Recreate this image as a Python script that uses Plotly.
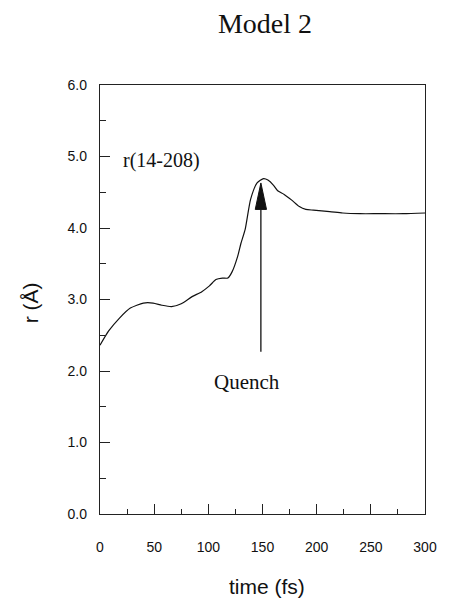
import plotly.graph_objects as go

# data
time_fs = [0, 8, 18, 28, 40, 49, 57, 66, 75, 85, 94, 101, 107, 113, 118, 122, 127, 130,
           134, 139, 145, 151, 155, 160, 164, 170, 177, 184, 190, 197, 212, 224, 240,
           257, 280, 300]
r_ang = [2.36, 2.56, 2.74, 2.88, 2.95, 2.95, 2.92, 2.90, 2.94, 3.04, 3.11, 3.19, 3.28,
         3.30, 3.30, 3.39, 3.60, 3.78, 3.98, 4.40, 4.63, 4.69, 4.67, 4.60, 4.52, 4.47,
         4.39, 4.30, 4.26, 4.25, 4.23, 4.21, 4.20, 4.20, 4.20, 4.21]

x_ticks = [0, 50, 100, 150, 200, 250, 300]
y_ticks = [0.0, 1.0, 2.0, 3.0, 4.0, 5.0, 6.0]

arrow_x = 148.5
arrow_tail = 2.27
arrow_tip = 4.63
head_base = 4.26
head_half = 5.2

label_text = "r(14-208)"
label_pos = (57, 4.95)
quench_pos = (136, 1.84)

serif = "Liberation Serif, Times New Roman, serif"
sans = "Liberation Sans, Arial, sans-serif"

W, H = 449, 599
L, R, T, B = 100, 13, 85, 85
pw, ph = W - L - R, H - T - B

fig = go.Figure()
fig.add_trace(go.Scatter(x=time_fs, y=r_ang, mode="lines",
                         line=dict(color="#111", width=1.2, shape="spline", smoothing=0.6),
                         showlegend=False, hoverinfo="skip"))

# arrow shaft and head
fig.add_shape(type="line", xref="x", yref="y", x0=arrow_x, x1=arrow_x,
              y0=arrow_tail, y1=head_base, line=dict(color="#111", width=1.3))
fig.add_shape(type="path", xref="x", yref="y",
              path=f"M {arrow_x - head_half},{head_base} L {arrow_x},{arrow_tip} "
                   f"L {arrow_x + head_half},{head_base} Z",
              fillcolor="#111", line=dict(color="#111", width=1))

fig.add_annotation(x=label_pos[0], y=label_pos[1], text=label_text, showarrow=False,
                   xref="x", yref="y", font=dict(family=serif, size=20, color="#111"))
fig.add_annotation(x=quench_pos[0], y=quench_pos[1], text="Quench", showarrow=False,
                   xref="x", yref="y", font=dict(family=serif, size=21, color="#111"))

# axis titles (pixel positions converted to paper coords)
fig.add_annotation(x=(273 - L) / pw, y=(H - B - 586) / ph, xref="paper", yref="paper",
                   xanchor="center", yanchor="middle", text="time (fs)",
                   showarrow=False, font=dict(family=sans, size=21, color="#111"))
fig.add_annotation(x=(28 - L) / pw, y=(H - B - 303) / ph, xref="paper", yref="paper",
                   xanchor="center", yanchor="middle", text="r (Å)", showarrow=False,
                   textangle=-90, font=dict(family=sans, size=21, color="#111"))

fig.update_layout(
    width=W, height=H, margin=dict(l=L, r=R, t=T, b=B),
    paper_bgcolor="white", plot_bgcolor="white",
    title=dict(text="Model 2", x=265 / W, xanchor="center", y=1 - 23 / H,
               yanchor="middle", font=dict(family=serif, size=28, color="#111")),
    xaxis=dict(range=[0, 300], tickvals=x_ticks, ticktext=[str(v) for v in x_ticks],
               ticks="inside", ticklen=10, tickwidth=1, tickcolor="#222",
               minor=dict(dtick=25, tick0=0, ticks="inside", ticklen=5, tickcolor="#222"),
               showline=True, linecolor="#222", linewidth=1.3, mirror=True,
               showgrid=False, zeroline=False, ticklabelstandoff=20,
               ticklabeloverflow="allow",
               tickfont=dict(family=sans, size=14, color="#111")),
    yaxis=dict(range=[0, 6], tickvals=y_ticks, ticktext=[f"{v:.1f}" for v in y_ticks],
               ticks="inside", ticklen=10, tickwidth=1, tickcolor="#222",
               minor=dict(dtick=0.5, tick0=0, ticks="inside", ticklen=6, tickcolor="#222"),
               showline=True, linecolor="#222", linewidth=1.3, mirror=True,
               showgrid=False, zeroline=False, ticklabelstandoff=9,
               tickfont=dict(family=sans, size=14, color="#111")),
)

fig.write_html("out.html", config={"displayModeBar": False},
               post_script="document.body.style.margin='0';document.body.style.overflow='hidden';")
